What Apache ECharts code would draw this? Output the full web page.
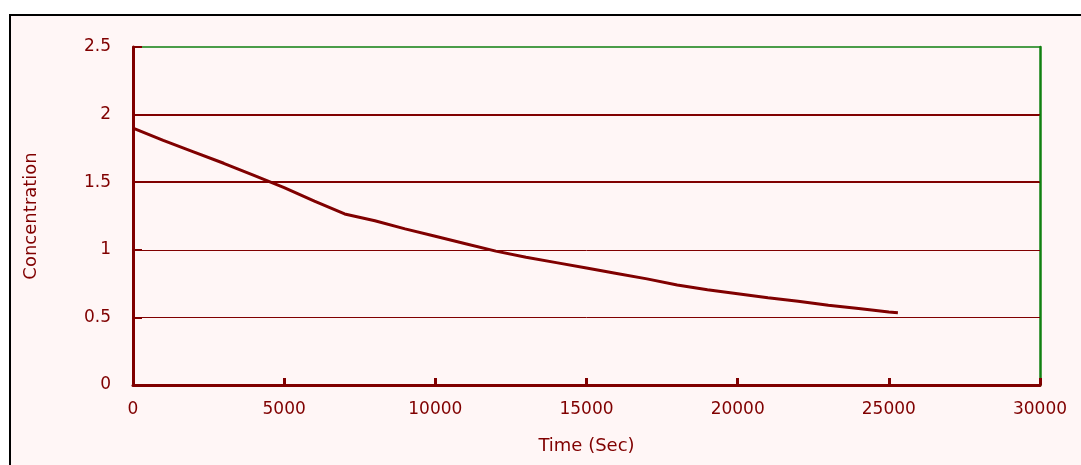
<!DOCTYPE html>
<html>
<head>
<meta charset="utf-8">
<script src="https://cdn.jsdelivr.net/npm/echarts@6/dist/echarts.min.js"></script>
<style>
html,body{margin:0;padding:0;background:#ffffff;}
#chart{width:1081px;height:465px;}
</style>
</head>
<body>
<div id="chart"></div>
<script>
// Data
var timeSec = [0, 1000, 2000, 3000, 4000, 5000, 6000, 7000, 8000, 9000, 10000, 11000, 12000, 13000, 14000, 15000, 16000, 17000, 18000, 19000, 20000, 21000, 22000, 23000, 24000, 25000, 25300];
var concentration = [1.9, 1.81, 1.725, 1.64, 1.55, 1.46, 1.36, 1.265, 1.215, 1.155, 1.10, 1.045, 0.99, 0.945, 0.905, 0.865, 0.825, 0.785, 0.74, 0.705, 0.675, 0.645, 0.62, 0.59, 0.565, 0.54, 0.535];
var xTicks = [0, 5000, 10000, 15000, 20000, 25000, 30000];
var yTicks = [0, 0.5, 1, 1.5, 2, 2.5];
var thickGrid = [1.5, 2];

var maroon = '#800000';
var green = '#118011';
var pts = timeSec.map(function (t, i) { return [t, concentration[i]]; });

var chart = echarts.init(document.getElementById('chart'), null, {renderer: 'canvas'});
chart.setOption({
  backgroundColor: '#ffffff',
  animation: false,
  graphic: [{
    type: 'rect', z: -10, silent: true,
    shape: {x: 10, y: 15, width: 1200, height: 600},
    style: {fill: '#fff6f6', stroke: '#000000', lineWidth: 2}
  }],
  grid: {left: 133, right: 41, top: 47, bottom: 80},
  xAxis: [{
    type: 'value', min: xTicks[0], max: xTicks[xTicks.length - 1], interval: 5000, z: 8,
    name: 'Time (Sec)', nameLocation: 'middle', nameGap: 52,
    nameTextStyle: {color: maroon, fontFamily: 'DejaVu Sans', fontSize: 18},
    axisLine: {show: true, onZero: false, lineStyle: {color: maroon, width: 3}},
    axisTick: {show: true, inside: true, length: 7, lineStyle: {color: maroon, width: 3}},
    axisLabel: {color: maroon, fontFamily: 'DejaVu Sans', fontSize: 17, margin: 16,
      formatter: function (v) { return String(v); }},
    splitLine: {show: false}
  }, {
    type: 'value', position: 'top', min: 0, max: 30000, z: 6,
    axisLine: {show: true, onZero: false, lineStyle: {color: green, width: 1.5}},
    axisTick: {show: false}, axisLabel: {show: false}, splitLine: {show: false}
  }],
  yAxis: [{
    type: 'value', min: yTicks[0], max: yTicks[yTicks.length - 1], interval: 0.5, z: 8,
    name: 'Concentration', nameLocation: 'middle', nameGap: 93, nameRotate: 90,
    nameTextStyle: {color: maroon, fontFamily: 'DejaVu Sans', fontSize: 18},
    axisLine: {show: true, onZero: false, lineStyle: {color: maroon, width: 3}},
    axisTick: {show: true, inside: true, length: 9, lineStyle: {color: maroon, width: 2}},
    axisLabel: {color: maroon, fontFamily: 'DejaVu Sans', fontSize: 17, margin: 22},
    splitLine: {show: true, showMinLine: false, showMaxLine: false, lineStyle: {color: maroon, width: 1}}
  }, {
    type: 'value', position: 'right', min: 0, max: 2.5, z: 6,
    axisLine: {show: true, onZero: false, lineStyle: {color: green, width: 2.5}},
    axisTick: {show: false}, axisLabel: {show: false}, splitLine: {show: false}
  }],
  series: [{
    type: 'line', data: pts, showSymbol: false, symbol: 'none',
    lineStyle: {color: maroon, width: 3}, z: 5,
    markLine: {
      silent: true, symbol: 'none', label: {show: false},
      lineStyle: {color: maroon, width: 2, type: 'solid'},
      data: thickGrid.map(function (v) { return {yAxis: v}; })
    }
  }]
});
</script>
</body>
</html>
